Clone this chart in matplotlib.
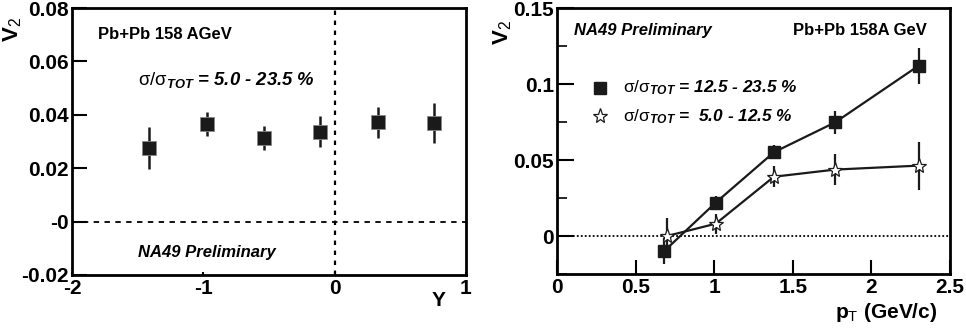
import matplotlib
matplotlib.use("Agg")
import matplotlib.pyplot as plt
from matplotlib.ticker import FixedLocator, FixedFormatter, MultipleLocator

plt.rcParams['font.family'] = ['Liberation Sans', 'DejaVu Sans']
plt.rcParams['mathtext.fontset'] = 'custom'
plt.rcParams['mathtext.rm'] = 'Liberation Sans'
plt.rcParams['mathtext.it'] = 'Liberation Sans:italic:bold'
plt.rcParams['mathtext.bf'] = 'Liberation Sans:bold'

# Left panel: v2 vs rapidity
y_rap = [-1.41, -0.97, -0.54, -0.11, 0.33, 0.76]
v2_rap = [0.0275, 0.0366, 0.0314, 0.0337, 0.0372, 0.0370]
err_rap = [0.0078, 0.0046, 0.0045, 0.0058, 0.0059, 0.0074]

# Right panel: v2 vs pT
pt = [0.68, 1.01, 1.38, 1.77, 2.30]
v2_sq = [-0.0101, 0.0220, 0.0551, 0.0748, 0.1120]
err_sq = [0.0085, 0.0040, 0.0045, 0.0077, 0.0117]
pt_star = [0.70, 1.01, 1.38, 1.77, 2.30]
v2_star = [0.0000, 0.0081, 0.0390, 0.0437, 0.0463]
err_star = [0.0120, 0.0065, 0.0070, 0.0104, 0.0158]

left_yticks = [-0.02, 0.0, 0.02, 0.04, 0.06, 0.08]
left_ylabels = ['-0.02', '-0', '0.02', '0.04', '0.06', '0.08']
left_xticks = [-2, -1, 0, 1]
left_xlabels = ['-2', '-1', '0', '1']
right_yticks = [0.0, 0.05, 0.1, 0.15]
right_ylabels = ['0', '0.05', '0.1', '0.15']
right_xticks = [0, 0.5, 1, 1.5, 2, 2.5]
right_xlabels = ['0', '0.5', '1', '1.5', '2', '2.5']

W, H = 966, 331
fig = plt.figure(figsize=(W / 100, H / 100), dpi=100)

def rect(x0, y0, x1, y1):
    return [x0 / W, 1 - y1 / H, (x1 - x0) / W, (y1 - y0) / H]

tick_fs = 15

# ---------- Left ----------
ax1 = fig.add_axes(rect(72, 8, 466, 275))
ax1.set_xlim(-2, 1)
ax1.set_ylim(-0.02, 0.08)
ax1.axhline(0, color='black', ls=(0, (3, 3)), lw=1.3)
ax1.axvline(0, color='black', ls=(0, (2, 2.5)), lw=1.6)
ax1.errorbar(y_rap, v2_rap, yerr=err_rap, fmt='s', color='#1a1a1a', ms=10,
             mec='#888888', mew=0.6, elinewidth=1.8, capsize=0, zorder=3)
ax1.yaxis.set_major_locator(FixedLocator(left_yticks))
ax1.yaxis.set_major_formatter(FixedFormatter(left_ylabels))
ax1.xaxis.set_major_locator(FixedLocator(left_xticks))
ax1.xaxis.set_major_formatter(FixedFormatter(left_xlabels))
ax1.tick_params(axis='y', direction='in', length=11, width=1.5, labelsize=tick_fs, pad=2)
ax1.tick_params(axis='x', direction='in', length=2, width=1.5, labelsize=tick_fs, pad=3)
for lab in ax1.get_xticklabels() + ax1.get_yticklabels():
    lab.set_fontweight('bold')
for s in ax1.spines.values():
    s.set_linewidth(2)
ax1.text(0.065, 0.90, 'Pb+Pb 158 AGeV', transform=ax1.transAxes, fontsize=12,
         fontweight='bold', va='center', ha='left')
ax1.text(0.168, 0.73, r'$\mathrm{\sigma/\sigma}_{\mathit{TOT}}$' + ' = 5.0 - 23.5 %',
         transform=ax1.transAxes, fontsize=13.3, fontweight='bold', style='italic',
         va='center', ha='left')
ax1.text(0.168, 0.083, 'NA49 Preliminary', transform=ax1.transAxes, fontsize=12,
         fontweight='bold', style='italic', va='center', ha='left')
fig.text(13 / W, 1 - 30 / H, r'$\mathbf{V}_{\mathrm{2}}$', rotation=90, fontsize=16,
         fontweight='bold', ha='center', va='center')
fig.text(439 / W, 1 - 301 / H, 'Y', fontsize=15, fontweight='bold', ha='center', va='center')

# ---------- Right ----------
ax2 = fig.add_axes(rect(557, 8, 950, 274))
ax2.set_xlim(0, 2.5)
ax2.set_ylim(-0.025, 0.15)
ax2.axhline(0, color='black', ls=(0, (1, 1.2)), lw=1.3)
ax2.errorbar(pt, v2_sq, yerr=err_sq, fmt='s-', color='#1a1a1a', ms=9,
             lw=1.6, elinewidth=1.6, capsize=0, zorder=3)
ax2.errorbar(pt_star, v2_star, yerr=err_star, fmt='*-', color='#1a1a1a', ms=11,
             mfc='white', mew=0.9, lw=1.6, elinewidth=1.6, capsize=0, zorder=4)
ax2.yaxis.set_major_locator(FixedLocator(right_yticks))
ax2.yaxis.set_major_formatter(FixedFormatter(right_ylabels))
ax2.yaxis.set_minor_locator(MultipleLocator(0.025))
ax2.xaxis.set_major_locator(FixedLocator(right_xticks))
ax2.xaxis.set_major_formatter(FixedFormatter(right_xlabels))
ax2.tick_params(axis='y', which='major', direction='in', length=12, width=1.5,
                labelsize=tick_fs, pad=2)
ax2.tick_params(axis='y', which='minor', direction='in', length=7, width=1.2)
ax2.tick_params(axis='x', direction='in', length=10, width=1.5, labelsize=tick_fs, pad=3)
for lab in ax2.get_xticklabels() + ax2.get_yticklabels():
    lab.set_fontweight('bold')
for s in ax2.spines.values():
    s.set_linewidth(2)
ax2.text(0.043, 0.915, 'NA49 Preliminary', transform=ax2.transAxes, fontsize=12,
         fontweight='bold', style='italic', va='center', ha='left')
ax2.text(0.94, 0.915, 'Pb+Pb 158A GeV', transform=ax2.transAxes, fontsize=12,
         fontweight='bold', va='center', ha='right')
# legend
ax2.plot([0.109], [0.7], marker='s', color='#1a1a1a', ms=9, transform=ax2.transAxes,
         clip_on=False)
ax2.plot([0.109], [0.593], marker='*', color='#1a1a1a', mfc='white', mew=0.9, ms=11,
         transform=ax2.transAxes, clip_on=False)
ax2.text(0.167, 0.70, r'$\mathrm{\sigma/\sigma}_{\mathit{TOT}}$' + ' = 12.5 - 23.5 %',
         transform=ax2.transAxes, fontsize=12.4, fontweight='bold', style='italic',
         va='center', ha='left')
ax2.text(0.167, 0.593, r'$\mathrm{\sigma/\sigma}_{\mathit{TOT}}$' + ' =  5.0 - 12.5 %',
         transform=ax2.transAxes, fontsize=12.4, fontweight='bold', style='italic',
         va='center', ha='left')
fig.text(503 / W, 1 - 33 / H, r'$\mathbf{V}_{\mathrm{2}}$', rotation=90, fontsize=16,
         fontweight='bold', ha='center', va='center')
fig.text(937 / W, 1 - 313 / H, r'p$_{\mathrm{T}}$ (GeV/c)', fontsize=15,
         fontweight='bold', ha='right', va='center')

fig.savefig('out.png', dpi=100)
